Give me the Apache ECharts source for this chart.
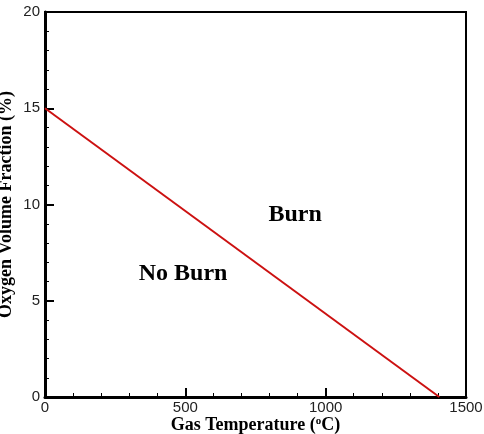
<!DOCTYPE html>
<html>
<head>
<meta charset="utf-8">
<script src="https://cdn.jsdelivr.net/npm/echarts@6/dist/echarts.min.js"></script>
<style>
  html, body { margin: 0; padding: 0; background: #fff; }
  #main { width: 484px; height: 434px; }
</style>
</head>
<body>
<div id="main"></div>
<script>
    // boundary line: gas temperature vs oxygen fraction
    var lineX = [0, 1405];
    var lineY = [15, 0];
    var xTicks = [0, 500, 1000, 1500];
    var yTicks = [0, 5, 10, 15, 20];
    var regionNames = ['Burn', 'No Burn'];
    var regionX = [891, 492];
    var regionY = [9.45, 6.4];

    var lineData = [];
    for (var i = 0; i < lineX.length; i++) {
        lineData.push([lineX[i], lineY[i]]);
    }
    var labelData = [];
    for (var j = 0; j < regionNames.length; j++) {
        labelData.push({ name: regionNames[j], value: [regionX[j], regionY[j]] });
    }

    var myChart = echarts.init(document.getElementById('main'));
    var option = {
        animation: false,
        grid: {
            left: 45, right: 18, top: 12, bottom: 37,
            outerBoundsMode: 'none',
            containLabel: false,
            show: true,
            borderColor: '#000',
            borderWidth: 2
        },
        xAxis: {
            type: 'value',
            min: xTicks[0],
            max: xTicks[xTicks.length - 1],
            interval: 500,
            name: 'Gas Temperature ({sup|o}C)',
            nameLocation: 'middle',
            nameMoveOverlap: false,
            nameGap: 19,
            nameTextStyle: {
                fontFamily: 'Liberation Serif',
                fontWeight: 'bold',
                fontSize: 18,
                color: '#000',
                rich: {
                    sup: {
                        fontFamily: 'Liberation Serif',
                        fontWeight: 'bold',
                        fontSize: 11,
                        color: '#000',
                        verticalAlign: 'top',
                        padding: [0, 0, 8, 0]
                    }
                }
            },
            axisLine: { lineStyle: { color: '#000', width: 3 } },
            axisTick: { inside: true, length: 9, lineStyle: { color: '#000', width: 2 } },
            minorTick: { show: true, splitNumber: 5, length: 4, lineStyle: { color: '#000', width: 1 } },
            axisLabel: {
                fontFamily: 'Liberation Sans', fontSize: 15, color: '#222', margin: 3,
                formatter: function (v) { return String(v); }
            },
            splitLine: { show: false }
        },
        yAxis: {
            type: 'value',
            min: yTicks[0],
            max: yTicks[yTicks.length - 1],
            interval: 5,
            name: 'Oxygen Volume Fraction (%)',
            nameLocation: 'middle',
            nameMoveOverlap: false,
            nameGap: 30,
            nameTextStyle: {
                fontFamily: 'Liberation Serif',
                fontWeight: 'bold',
                fontSize: 18,
                color: '#000'
            },
            axisLine: { lineStyle: { color: '#000', width: 3 } },
            axisTick: { inside: true, length: 9, lineStyle: { color: '#000', width: 2 } },
            minorTick: { show: true, splitNumber: 5, length: 4, lineStyle: { color: '#000', width: 1 } },
            axisLabel: { fontFamily: 'Liberation Sans', fontSize: 15, color: '#222', margin: 5 },
            splitLine: { show: false }
        },
        series: [
            {
                type: 'line',
                data: lineData,
                symbol: 'none',
                lineStyle: { color: '#cc1111', width: 2 }
            },
            {
                type: 'scatter',
                data: labelData,
                symbolSize: 0,
                itemStyle: { opacity: 1 },
                label: {
                    show: true,
                    position: 'inside',
                    formatter: '{b}',
                    fontFamily: 'Liberation Serif',
                    fontWeight: 'bold',
                    fontSize: 24,
                    color: '#000',
                    opacity: 1
                }
            }
        ]
    };
    myChart.setOption(option);
</script>
</body>
</html>
